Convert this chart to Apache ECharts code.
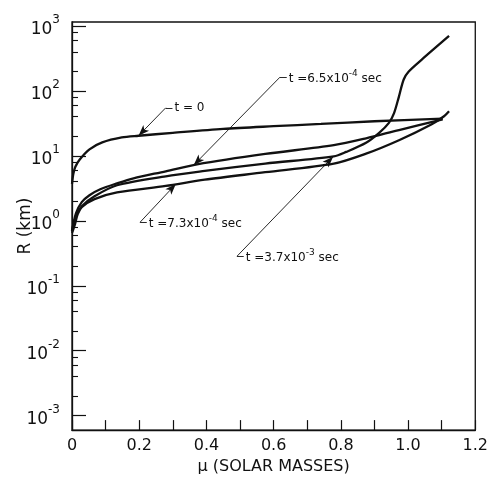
<!DOCTYPE html>
<html>
<head>
<meta charset="utf-8">
<script src="https://cdn.jsdelivr.net/npm/echarts@6/dist/echarts.min.js"></script>
<style>
  html, body { margin: 0; background: #fff; }
  #chart { width: 491px; height: 480px; }
</style>
</head>
<body>
<div id="chart"></div>
<script>
// mass coordinate (solar masses) and radius (km)
var muT0 = [0, 0.004, 0.010, 0.023, 0.052, 0.090, 0.148, 0.198, 0.30, 0.45, 0.60, 0.741, 0.90, 1.103];
var rT0  = [3.7, 5.3, 6.8, 8.8, 12.6, 16.1, 19.2, 20.4, 22.6, 26.0, 28.6, 31.0, 34.1, 37.5];

var mu65 = [0, 0.012, 0.029, 0.052, 0.084, 0.134, 0.183, 0.279, 0.372, 0.575, 0.779, 0.875, 0.973, 1.103];
var r65  = [0.70, 1.31, 1.94, 2.48, 3.06, 3.78, 4.52, 5.78, 7.40, 10.7, 14.6, 18.6, 25.0, 36.3];

var mu73 = [0, 0.009, 0.017, 0.029, 0.067, 0.134, 0.279, 0.395, 0.575, 0.779, 0.875, 0.973, 1.069, 1.107, 1.122];
var r73  = [0.65, 0.89, 1.27, 1.63, 2.16, 2.73, 3.45, 4.30, 5.60, 7.60, 10.8, 17.4, 30.4, 40.7, 48.5];

var mu37 = [0, 0.012, 0.029, 0.067, 0.134, 0.279, 0.395, 0.575, 0.779, 0.816, 0.875, 0.914, 0.943, 0.958, 0.973, 0.987, 1.002, 1.040, 1.122];
var r37  = [0.70, 1.18, 1.68, 2.39, 3.53, 4.85, 5.85, 7.60, 9.82, 11.5, 15.9, 22.6, 32.2, 45.0, 82.5, 150, 199, 301, 701];

// axis ticks
var yDecades = [0.001, 0.01, 0.1, 1, 10, 100, 1000];
var yMinor = [0.002, 0.004, 0.006, 0.008, 0.02, 0.04, 0.06, 0.08, 0.2, 0.4, 0.6, 0.8,
              2, 4, 6, 8, 20, 40, 60, 80, 200, 400, 600, 800];

// annotations: text, exponent, leader start (data), arrow tip (data)
var notes = [
  { text: 't = 0', sup: '', tail: '', from: [0.279, 55], tip: [0.198, 20.4] },
  { text: 't =6.5x10', sup: '-4', tail: ' sec', from: [0.619, 163], tip: [0.362, 7.2] },
  { text: 't =7.3x10', sup: '-4', tail: ' sec', from: [0.2025, 0.95], tip: [0.309, 3.68] },
  { text: 't =3.7x10', sup: '-3', tail: ' sec', from: [0.491, 0.285], tip: [0.777, 9.7] }
];

var FONT = 'DejaVu Sans';

function pairs(xs, ys) {
  return xs.map(function (x, i) { return [x, ys[i]]; });
}

var leaders = [];
notes.forEach(function (n) {
  leaders.push([
    { coord: n.from, symbol: 'none' },
    { coord: n.tip, symbol: 'arrow' }
  ]);
  var lbl = '{a|' + n.text + '}' + (n.sup ? '{s|' + n.sup + '}' : '') + (n.tail ? '{a|' + n.tail + '}' : '');
  leaders.push([
    { coord: n.from, symbol: 'none' },
    { coord: [n.from[0] + 0.02, n.from[1]], symbol: 'none',
      label: { show: true, position: 'end', distance: 2, formatter: lbl } }
  ]);
});

function curve(name, data, extra) {
  var s = {
    name: name,
    type: 'line',
    data: data,
    symbol: 'none',
    smooth: 0.3,
    lineStyle: { color: '#111', width: 2.3 },
    silent: true
  };
  if (extra) s.markLine = extra;
  return s;
}

var chart = echarts.init(document.getElementById('chart'));
chart.setOption({
  animation: false,
  backgroundColor: '#fff',
  grid: { left: 72, right: 6, top: 22, bottom: 48, show: true, borderColor: '#111', borderWidth: 1.3 },
  xAxis: {
    type: 'value',
    min: 0,
    max: 1.2,
    interval: 0.1,
    name: 'μ (SOLAR MASSES)',
    nameLocation: 'middle',
    nameGap: 26,
    nameTextStyle: { fontFamily: FONT, fontSize: 16, color: '#111' },
    axisLine: { lineStyle: { color: '#111', width: 1.3 } },
    axisTick: { inside: true, length: 10, lineStyle: { color: '#111', width: 1.2 } },
    axisLabel: {
      margin: 8,
      fontFamily: FONT,
      fontSize: 16,
      color: '#111',
      formatter: function (v) {
        var k = Math.round(v * 10);
        if (k % 2) return '';
        return k === 0 ? '0' : v.toFixed(1);
      }
    },
    splitLine: { show: false }
  },
  yAxis: [
    {
      type: 'log',
      min: 0.0006,
      max: 1150,
      name: 'R (km)',
      nameLocation: 'middle',
      nameGap: 38,
      nameMoveOverlap: false,
      nameTextStyle: { fontFamily: FONT, fontSize: 17, color: '#111' },
      axisLine: { show: true, lineStyle: { color: '#111', width: 1.3 } },
      axisTick: { inside: true, length: 14, customValues: yDecades, lineStyle: { color: '#111', width: 1.2 } },
      axisLabel: {
        customValues: yDecades,
        margin: 12,
        color: '#111',
        formatter: function (v) {
          var e = Math.round(Math.log10(v));
          return '{b|10}{e|' + e + '}';
        },
        rich: {
          b: { fontFamily: FONT, fontSize: 17, color: '#111', verticalAlign: 'bottom' },
          e: { fontFamily: FONT, fontSize: 12, color: '#111', verticalAlign: 'bottom', padding: [0, 0, 12, 0] }
        }
      },
      splitLine: { show: false }
    },
    {
      type: 'log',
      min: 0.0006,
      max: 1150,
      position: 'left',
      offset: 0,
      axisLine: { show: true, lineStyle: { color: '#111', width: 1.3, opacity: 0 } },
      axisTick: { show: true, inside: true, length: 6, customValues: yMinor, lineStyle: { color: '#111', width: 1.1 } },
      axisLabel: { show: false },
      splitLine: { show: false }
    }
  ],
  series: [
    curve('t=0', pairs(muT0, rT0), {
      silent: true,
      symbolSize: [6, 11],
      lineStyle: { color: '#111', width: 0.9, type: 'solid' },
      label: {
        show: false,
        color: '#111',
        rich: {
          a: { fontFamily: FONT, fontSize: 12, color: '#111', verticalAlign: 'bottom' },
          s: { fontFamily: FONT, fontSize: 9, color: '#111', verticalAlign: 'bottom', padding: [0, 0, 7, 0] }
        }
      },
      emphasis: { disabled: true },
      data: leaders
    }),
    curve('t=6.5e-4', pairs(mu65, r65)),
    curve('t=7.3e-4', pairs(mu73, r73)),
    curve('t=3.7e-3', pairs(mu37, r37)),
    { type: 'line', yAxisIndex: 1, data: [], silent: true }
  ]
});
</script>
</body>
</html>
